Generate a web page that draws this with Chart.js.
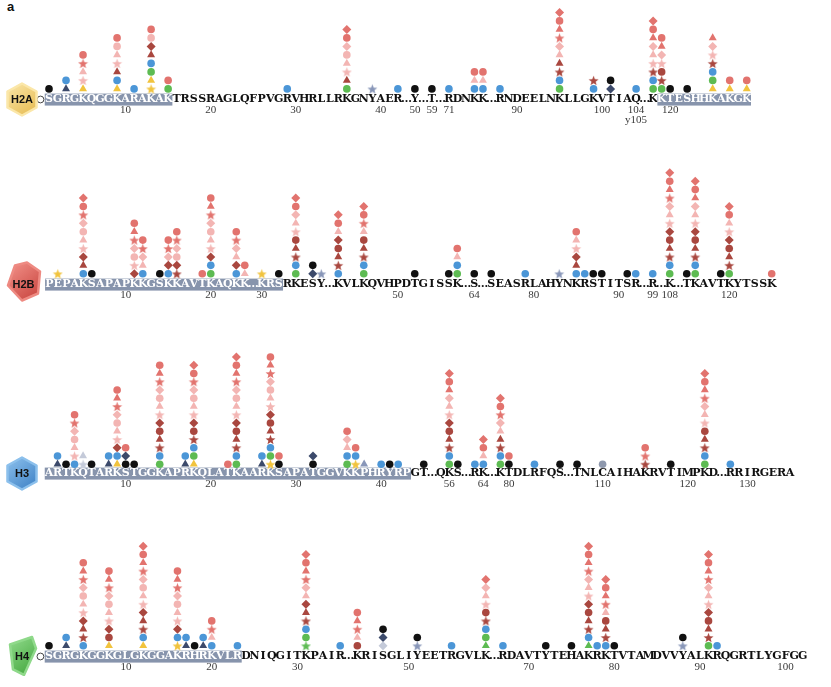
<!DOCTYPE html>
<html>
<head>
<meta charset="utf-8">
<script src="https://cdn.jsdelivr.net/npm/chart.js@4.4.1/dist/chart.umd.min.js"></script>
<style>
html,body{margin:0;padding:0;background:#ffffff;}
body{width:831px;height:687px;position:relative;overflow:hidden;}
#panel{position:absolute;left:7px;top:0px;font:bold 13px 'Liberation Sans',Arial,sans-serif;line-height:13px;color:#111;}
</style>
</head>
<body>
<div id="panel">a</div>
<script>
// ================= DATA =================
// Sequences are given as [first residue number, displayed residues]; gaps become "…"
const H2A_SEGMENTS = [[1,"SGRGKQGGKARAKAKTRSSRAGLQFPVGRVHRLLRKGNYAER"],[50,"Y"],[59,"T"],[71,"RDNKK"],[88,"RNDEELNKLLGKVTIAQ"],[118,"KKTESHHKAKGK"]];
const H2A_TAIL = [[1,15],[119,129]];
const H2A_TICKS = [10,20,30,40,50,59,71,90,100,104,120];
const H2A_TICK_LABELS = ["10","20","30","40","50","59","71","90","100",["104","y105"],"120"];
const H2A_MARKS = [
 [0,"o"],[1,"k"],[3,"n^ b"],[5,"y^ P* P^ R* Ro"],[9,"y^ b D^ P* P^ Po Ro"],[11,"b"],
 [13,"y* y^ g b D^ Dd Po Ro"],[15,"g Ro"],[29,"b"],[36,"g D^ P* P^ Po Pd Ro Rd"],[39,"s*"],[42,"b"],
 [50,"k"],[59,"k"],[71,"b"],[74,"b P^ Ro"],[75,"b P^ Ro"],[88,"b"],
 [95,"g b D* D^ P^ Pd R* R^ Ro Rd"],[99,"b D*"],[101,"nd k"],[104,"b"],
 [118,"g b D* P* P^ Pd R^ Ro Rd"],[119,"g D* Do P* Pd R^ Ro"],[120,"k"],[122,"k"],
 [125,"y^ g b D* P* Pd R^"],[127,"y^ Ro"],[129,"y^ Ro"]
];

const H2B_SEGMENTS = [[1,"PEPAKSAPAPKKGSKKAVTKAQKK"],[30,"KRSRKESY"],[43,"KVLKQVHPDTGISSK"],[64,"S"],[75,"SEASRLAHYNKRSTITSR"],[99,"R"],[108,"K"],[115,"TKAVTKYTSSK"]];
const H2B_TAIL = [[1,32]];
const H2B_TICKS = [10,20,30,50,64,80,90,99,108,120];
const H2B_TICK_LABELS = ["10","20","30","50","64","80","90","99","108","120"];
const H2B_MARKS = [
 [2,"y*"],[5,"b D^ Dd P* P^ Po Pd R* Ro Rd"],[6,"k"],[11,"Dd P* Po Pd R* R^ Ro"],[12,"b P^ Pd R* Ro"],
 [14,"k"],[15,"b Dd Pd R* Ro"],[16,"D* Dd Po Pd R* Ro"],[19,"Ro"],[20,"g b Dd P* P^ Po Pd R* R^ Ro"],
 [23,"b Dd P^ Pd R* Ro"],[24,"P^ Ro"],[30,"y*"],[32,"k"],[34,"g b D* D^ Do P* P^ Pd Ro Rd"],
 [36,"nd k"],[37,"s*"],[43,"b D* D^ Do Dd P^ Ro Rd"],[46,"g b D* D^ Do P^ R* Ro Rd"],
 [52,"k"],[56,"k"],[57,"g b P^ Ro"],[64,"k"],[75,"k"],[79,"b"],[83,"s*"],[85,"b D^ Dd P* P^ Ro"],
 [86,"b"],[87,"k"],[88,"k"],[91,"k"],[92,"b"],[99,"b"],
 [108,"g b D* D^ Do Dd P* P^ Pd R* R^ Ro Rd"],[115,"k"],[116,"g b D* D^ Do Dd P* P^ Pd R^ Ro Rd"],
 [119,"k"],[120,"g D* D^ Do Dd P* P^ Ro Rd"],[125,"Ro"]
];

const H3_SEGMENTS = [[1,"ARTKQTARKSTGGKAPRKQLATKAARKSAPATGGVKKPHRYRPGT"],[55,"QKS"],[63,"RK"],[79,"KTDLRFQS"],[107,"TNLCAIHAKRVTIMPKD"],[128,"RRIRGERA"]];
const H3_TAIL = [[1,43]];
const H3_TICKS = [10,20,30,40,56,64,80,110,120,130];
const H3_TICK_LABELS = ["10","20","30","40","56","64","80","110","120","130"];
const H3_MARKS = [
 [2,"n^ b"],[3,"k"],[4,"b P* P^ Po Pd R* Ro"],[5,"l* l^"],[6,"k"],[8,"n^ b"],
 [9,"y^ b Dd P* P^ Po Pd R* R^ Ro"],[10,"k nd Ro"],[11,"k"],
 [14,"g b D* D^ Do Dd P* P^ Po Pd R* R^ Ro"],[17,"n^ b"],
 [18,"y^ g b D* Do Dd P* P^ Po Pd R* Ro Rd"],[22,"Ro"],
 [23,"g b D* D^ Do Dd P* P^ Po Pd R* R^ Ro Rd"],[26,"n^ b"],
 [27,"y* g b D* D^ Do Dd P* P^ Po Pd R* R^ Ro"],[28,"k Ro"],[32,"k nd"],
 [36,"g b P^ Pd Ro"],[37,"y* b Ro"],[38,"s^"],[40,"b"],[41,"k"],[42,"b"],[45,"k"],
 [56,"g b D* D^ Do Dd P* P^ Pd R^ Ro Rd"],[57,"k"],[63,"b"],[64,"b P^ Ro Rd"],
 [79,"g b D* D^ P^ Pd R* Ro Rd"],[80,"k Ro"],[83,"b"],[86,"k"],[107,"k"],[110,"c"],
 [115,"D* R* Ro"],[118,"k"],[122,"g b D* D^ Do P* P^ Pd R* R^ Ro Rd"],[128,"b"]
];

const H4_SEGMENTS = [[1,"SGRGKGGKGLGKGGAKRHRKVLRDNIQGITKPAIR"],[44,"KRISGLIYEETRGVLK"],[67,"RDAVTYTEHAKRKTVTAMDVVYALKRQGRTLYGFGG"]];
const H4_TAIL = [[1,23]];
const H4_TICKS = [10,20,30,50,70,80,90,100];
const H4_TICK_LABELS = ["10","20","30","50","70","80","90","100"];
const H4_MARKS = [
 [0,"o"],[1,"k"],[3,"n^ b"],[5,"b D* D^ Dd P* P^ Po Pd R* R^ Ro"],[8,"y^ Do Dd P* P^ Po Pd R* R^ Ro"],
 [12,"y^ b D* D^ Dd P* P^ Po Pd R* R^ Ro Rd"],[16,"y* b Dd P* P^ Po Pd R* R^ Ro"],
 [17,"n^ b"],[18,"k"],[19,"n^ b"],[20,"b P^ R* Ro"],[23,"b"],
 [31,"G* g b D* D^ Dd P^ Pd R* R^ Ro Rd"],[35,"b"],[44,"Do P^ R* R^ Ro"],[47,"ld nd k"],
 [51,"s* k"],[55,"b"],[59,"G^ g b D* Do P* P^ Pd Rd"],[67,"b"],[72,"k"],[75,"k"],
 [77,"G^ b D* D^ Do Dd P* P^ Pd R* R^ Ro Rd"],[78,"b"],[79,"b D* D^ Do P^ R* R^ Ro Rd"],[80,"k"],
 [88,"s* k"],[91,"g D* D^ Do Dd P* P^ Pd R* R^ Ro Rd"],[92,"b"]
];

// ================= STYLE / LAYOUT =================
const COLORS = {k:'#111111', b:'#4b96d7', g:'#5dbb52', G:'#5dbb52', c:'#8e98ad', y:'#f1c33d', n:'#3c4a6b',
                s:'#8896b8', l:'#c4cad9', D:'#a9473f', P:'#f3b5b3', R:'#e2736e'};
const LETTER_FONT = {family:"'DejaVu Serif', 'Liberation Serif', serif", size:11, weight:'bold', lineHeight:1};
const NUMBER_FONT = {family:"'Liberation Serif', 'DejaVu Serif', serif", size:11, lineHeight:0.91};
const TAIL_COLOR = '#8794ac';
const HEX = [[0,-16],[14.5,-8],[14.5,8],[0,16],[-14.5,8],[-14.5,-8]];
const LAYOUT = {
  H2A:{ly:99.3, area:93, py:8.5,  off:5.1, x0:49,   px:8.509, lines:2, bx:22,   by:0,  poly:HEX, grad:['#fbe7a9','#e6bb52']},
  H2B:{ly:284,  area:130,py:8.42, off:5.2, x0:49.3, px:8.499, lines:1, bx:23.5, by:0,  poly:[[-8.5,-19],[3.5,-22],[16.5,-13],[14.5,9],[-1.5,16],[-15.5,1]], grad:['#ee8a82','#c9453f']},
  H3: {ly:473.3,area:130,py:8.25, off:3.8, x0:49,   px:8.517, lines:1, bx:22,   by:0,  poly:HEX, grad:['#8cc0ec','#3f82c6']},
  H4: {ly:656.7,area:120,py:8.3,  off:5.2, x0:49,   px:8.565, lines:1, bx:22,   by:0,  poly:[[-12,-12],[10,-19.5],[14,-8],[2,18.5],[-9,13]], grad:['#8fd98a','#45a83f']}
};

// ================= HELPERS =================
const starCache = {};
function starImage(color){
  if (starCache[color]) return starCache[color];
  const s = 11, c = document.createElement('canvas');
  c.width = s; c.height = s;
  const x = c.getContext('2d');
  x.fillStyle = color; x.beginPath();
  for (let i = 0; i < 10; i++){
    const r = i % 2 ? 2.2 : 5.2, a = -Math.PI/2 + i*Math.PI/5;
    const px = s/2 + r*Math.cos(a), py = s/2 + 0.5 + r*Math.sin(a);
    i ? x.lineTo(px,py) : x.moveTo(px,py);
  }
  x.closePath(); x.fill();
  starCache[color] = c;
  return c;
}
function markStyle(code){
  if (code.length === 1) return {pointStyle:'circle', pointRadius:3.8, backgroundColor:COLORS[code], borderColor:COLORS[code], borderWidth:0};
  const col = COLORS[code[0]], sh = code[1];
  if (sh === '^') return {pointStyle:'triangle', pointRadius:4.6, backgroundColor:col, borderColor:col, borderWidth:0};
  if (sh === 'd') return {pointStyle:'rectRot', pointRadius:4.5, backgroundColor:col, borderColor:col, borderWidth:0};
  if (sh === '*') return {pointStyle:starImage(col), pointRadius:5, backgroundColor:col, borderColor:col, borderWidth:0};
  return {pointStyle:'circle', pointRadius:3.8, backgroundColor:col, borderColor:col, borderWidth:0};
}
function buildColumns(segments){
  const cols = [], resCol = {};
  segments.forEach(([start, seq], si) => {
    if (si > 0) cols.push('\u2026');
    [...seq].forEach((ch, k) => { resCol[start + k] = cols.length; cols.push(ch); });
  });
  return {cols, resCol};
}

const tailPlugin = {
  id:'tail',
  beforeDraw(chart, args, o){
    const xs = chart.scales.x, ca = chart.chartArea, ctx = chart.ctx;
    ctx.save(); ctx.fillStyle = o.color;
    o.ranges.forEach(([c1,c2]) => {
      const a = xs.getPixelForValue(c1 - 0.5), b = xs.getPixelForValue(c2 + 0.5);
      ctx.fillRect(a, ca.bottom - 0.4, b - a, 12);
    });
    ctx.restore();
  }
};
// badge + open N-terminal circles (on the sequence line, positioned with the x scale)
const badgePlugin = {
  id:'badge',
  afterDraw(chart, args, o){
    const ctx = chart.ctx, ca = chart.chartArea, xs = chart.scales.x;
    const lineY = ca.bottom + 5.5;
    ctx.save();
    o.nterm.forEach(c => {
      ctx.beginPath(); ctx.arc(xs.getPixelForValue(c), lineY, 3.4, 0, Math.PI*2);
      ctx.fillStyle = '#fff'; ctx.fill(); ctx.lineWidth = 0.9; ctx.strokeStyle = '#333'; ctx.stroke();
    });
    const cx = ca.left + o.x, cy = lineY + o.y;
    const g = ctx.createLinearGradient(cx - 14, cy - 16, cx + 12, cy + 16);
    g.addColorStop(0, o.grad[0]); g.addColorStop(1, o.grad[1]);
    ctx.beginPath();
    o.poly.forEach(([dx,dy], i) => i ? ctx.lineTo(cx+dx, cy+dy) : ctx.moveTo(cx+dx, cy+dy));
    ctx.closePath();
    ctx.lineJoin = 'round'; ctx.lineWidth = 2.5; ctx.strokeStyle = o.grad[0];
    ctx.fillStyle = g; ctx.fill(); ctx.stroke();
    ctx.fillStyle = '#111'; ctx.font = "bold 11px 'Liberation Sans', Arial, sans-serif";
    ctx.textAlign = 'center'; ctx.textBaseline = 'middle';
    ctx.fillText(o.label, cx, cy + 0.5);
    ctx.restore();
  }
};

function drawRow(label, segments, tail, tickRes, tickLabels, marks){
  const L = LAYOUT[label];
  const {cols, resCol} = buildColumns(segments);
  const colOf = r => (r in resCol) ? resCol[r] : r - segments[0][0];
  const tailCols = tail.map(([a,b]) => [colOf(a), colOf(b)]);
  const isTail = i => tailCols.some(([a,b]) => i >= a && i <= b);
  const tickCols = tickRes.map(colOf);

  const ymin = -L.off / L.py, ymax = (L.area - L.off) / L.py;
  const xmin = -L.x0 / L.px, xmax = (831 - L.x0) / L.px;

  // group marks into one dataset per modification symbol
  const groups = {}, nterm = [];
  marks.forEach(([res, stack]) => {
    const x = colOf(res);
    stack.split(' ').forEach((code, lvl) => {
      if (code === 'o') { nterm.push(x); return; }
      (groups[code] = groups[code] || []).push({x, y: lvl});
    });
  });
  const datasets = Object.keys(groups).map(code => Object.assign({label: code, data: groups[code], clip: false}, markStyle(code)));

  const axesH = 11 + 10 * L.lines;
  const H = L.area + axesH + 4;
  const canvas = document.createElement('canvas');
  canvas.width = 831; canvas.height = H;
  canvas.style.position = 'absolute'; canvas.style.left = '0px';
  canvas.style.top = (L.ly - 5.5 - L.area) + 'px';
  canvas.style.width = '831px'; canvas.style.height = H + 'px';
  document.body.appendChild(canvas);

  new Chart(canvas, {
    type: 'scatter',
    data: {datasets},
    plugins: [tailPlugin, badgePlugin],
    options: {
      responsive: false, animation: false, events: [],
      layout: {padding: {left: 0, right: 0, top: 0, bottom: 4}, autoPadding: false},
      plugins: {
        legend: {display: false}, tooltip: {enabled: false},
        tail: {ranges: tailCols, color: TAIL_COLOR},
        badge: {label, x: L.bx, y: L.by, poly: L.poly, grad: L.grad, nterm}
      },
      scales: {
        x: {
          type: 'linear', position: 'bottom', weight: 0, min: xmin, max: xmax,
          grid: {display: false, drawTicks: false}, border: {display: false},
          afterBuildTicks: s => { s.ticks = cols.map((c, i) => ({value: i})); },
          ticks: {autoSkip: false, maxRotation: 0, minRotation: 0, padding: 0,
                  font: LETTER_FONT,
                  color: ctx => isTail(ctx.index) ? '#ffffff' : '#111111',
                  callback: (v, i) => cols[i]}
        },
        num: {
          type: 'linear', axis: 'x', position: 'bottom', weight: 1, min: xmin, max: xmax,
          grid: {display: false, drawTicks: false}, border: {display: false},
          afterBuildTicks: s => { s.ticks = tickCols.map(c => ({value: c})); },
          ticks: {autoSkip: false, maxRotation: 0, minRotation: 0, padding: 0,
                  font: NUMBER_FONT, color: '#3a3a3a',
                  callback: (v, i) => tickLabels[i]}
        },
        y: {type: 'linear', display: false, min: ymin, max: ymax}
      }
    }
  });
}

drawRow('H2A', H2A_SEGMENTS, H2A_TAIL, H2A_TICKS, H2A_TICK_LABELS, H2A_MARKS);
drawRow('H2B', H2B_SEGMENTS, H2B_TAIL, H2B_TICKS, H2B_TICK_LABELS, H2B_MARKS);
drawRow('H3',  H3_SEGMENTS,  H3_TAIL,  H3_TICKS,  H3_TICK_LABELS,  H3_MARKS);
drawRow('H4',  H4_SEGMENTS,  H4_TAIL,  H4_TICKS,  H4_TICK_LABELS,  H4_MARKS);
</script>
</body>
</html>
